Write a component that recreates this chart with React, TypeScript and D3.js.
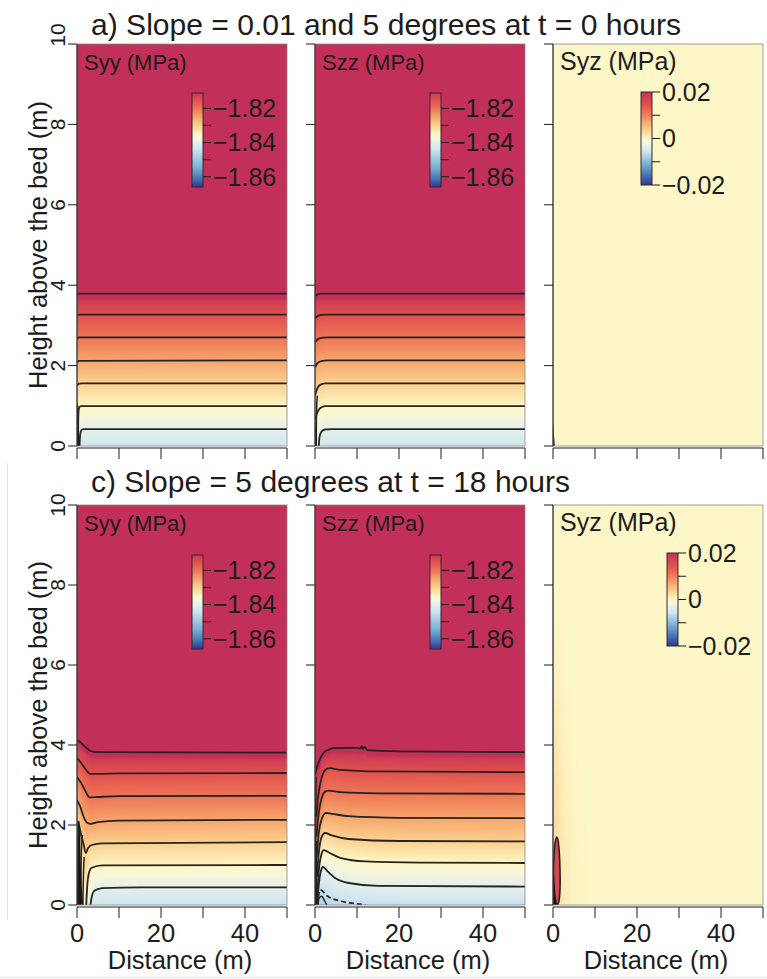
import React, { useMemo } from 'react';
import * as d3 from 'd3';

type Pt = [number, number];

// ---------------- axes / text ----------------
const xTicks = [0, 10, 20, 30, 40, 50];
const xTickLabels = [0, 20, 40];
const yTicks = [0, 2, 4, 6, 8, 10];
const sectionTitles = [
  'a) Slope = 0.01 and 5 degrees at t = 0 hours',
  'c) Slope = 5 degrees at t = 18 hours',
];
const panelLabels = ['Syy (MPa)', 'Szz (MPa)', 'Syz (MPa)'];

// ---------------- colour bars ----------------
const normalRange: [number, number] = [-1.866, -1.811];
const normalTicks = [-1.86, -1.85, -1.84, -1.83, -1.82];
const normalTickLabels = [-1.86, -1.84, -1.82];
const shearRange: [number, number] = [-0.02, 0.02];
const shearTicks = [-0.02, -0.01, 0, 0.01, 0.02];
const shearTickLabels = [-0.02, 0, 0.02];

const paletteColors = ['#313695', '#4470b0', '#78aed3', '#cfe6f0', '#e5f0ea', '#f6f6dc', '#fdf6c6',
  '#fbd08e', '#f6a56c', '#ee7556', '#e0504f', '#cf3e52', '#c22f58'];
const normalStops = [0, 0.08, 0.2, 0.405, 0.473, 0.52, 0.56, 0.655, 0.745, 0.836, 0.927, 0.985, 1];
const shearStops = [0, 0.1, 0.22, 0.36, 0.42, 0.46, 0.5, 0.59, 0.68, 0.77, 0.86, 0.95, 1];

// ---------------- contour data (distance m, height m) ----------------
const levels7 = [-1.84, -1.835, -1.83, -1.825, -1.82, -1.815, -1.81];
const levels8 = [-1.845, -1.84, -1.835, -1.83, -1.825, -1.82, -1.815, -1.81];
const levelSpacing = 0.57; // far-field height between contours (m)
const levelStep = 0.005;

const syyT0: Pt[][] = [
  [[0.6, 0], [0.72, 0.25], [0.95, 0.38], [1.5, 0.42], [50, 0.42]],
  [[0.25, 0], [0.3, 0.7], [0.45, 0.93], [0.9, 0.99], [50, 0.99]],
  [[0, 1.5], [0.5, 1.55], [1.2, 1.56], [50, 1.56]],
  [[0, 2.08], [0.5, 2.12], [50, 2.13]],
  [[0, 2.66], [0.5, 2.7], [50, 2.7]],
  [[0, 3.24], [0.5, 3.27], [50, 3.27]],
  [[0, 3.77], [0.5, 3.79], [50, 3.79]],
];
const syyT0Extra: Pt[][] = [[[0.08, 0], [0.1, 0.6], [0.2, 1.0]]];
const syyT0Blobs: Pt[][] = [[[0, 0], [0.55, 0], [0.3, 0.45], [0.15, 1.05], [0, 1.1]]];

const szzT0: Pt[][] = [
  [[0.9, 0], [1.05, 0.2], [1.5, 0.35], [2.4, 0.41], [4, 0.42], [50, 0.42]],
  [[0, 0.65], [0.5, 0.82], [1.2, 0.94], [2.5, 0.99], [50, 0.99]],
  [[0, 1.25], [0.5, 1.42], [1.2, 1.52], [2.5, 1.56], [50, 1.56]],
  [[0, 1.95], [0.6, 2.06], [1.5, 2.11], [3, 2.13], [50, 2.13]],
  [[0, 2.58], [0.6, 2.65], [1.5, 2.69], [3, 2.7], [50, 2.7]],
  [[0, 3.18], [0.6, 3.23], [1.5, 3.26], [3, 3.27], [50, 3.27]],
  [[0, 3.73], [0.6, 3.77], [1.5, 3.79], [50, 3.79]],
];
const szzT0Extra: Pt[][] = [[[0.3, 0], [0.32, 0.5], [0.4, 1.0], [0.55, 1.25]]];
const szzT0Blobs: Pt[][] = [[[0, 0], [0.4, 0], [0.2, 0.5], [0, 0.7]]];

const syzT0Blobs: Pt[][] = [[[0, 0], [0.45, 0], [0.2, 0.3], [0.08, 0.55], [0, 0.55]]];

const syyT18: Pt[][] = [
  [[3.2, 0], [3.5, 0.2], [4.2, 0.36], [6, 0.42], [15, 0.44], [50, 0.44]],
  [[2.2, 0], [2.45, 0.5], [2.8, 0.78], [3.5, 0.93], [6, 0.99], [50, 1.0]],
  [[0.3, 2.1], [0.9, 1.8], [1.5, 1.55], [2.1, 1.3], [2.6, 1.42], [3.5, 1.5], [6, 1.54], [50, 1.57]],
  [[0, 2.63], [0.8, 2.45], [1.6, 2.2], [2.5, 2.05], [3.3, 2.03], [5, 2.07], [10, 2.11], [50, 2.13]],
  [[0, 3.2], [1, 3.05], [2, 2.85], [3, 2.69], [5, 2.7], [10, 2.72], [50, 2.73]],
  [[0, 3.67], [1, 3.55], [2, 3.4], [3.2, 3.28], [5, 3.28], [10, 3.29], [50, 3.3]],
  [[0, 4.13], [1, 4.05], [2, 3.95], [3.2, 3.85], [5, 3.82], [50, 3.81]],
];
const syyT18Extra: Pt[][] = [
  [[0.2, 0], [0.22, 1.0], [0.3, 2.1]],
  [[0.5, 0], [0.55, 1.0], [0.7, 1.9]],
  [[0.9, 0], [0.95, 0.8], [1.1, 1.5], [1.3, 1.75]],
  [[1.4, 0], [1.5, 0.6], [1.7, 1.2]],
];
const syyT18Blobs: Pt[][] = [[[0.15, 0], [1.5, 0], [1.1, 0.5], [0.8, 1.3], [0.5, 2.1], [0.3, 2.1], [0.2, 1.0]]];

const szzT18: Pt[][] = [
  [[0.6, 0], [0.8, 0.2], [1.2, 0.38], [3, 0.22], [6, 0.1], [10, 0.03], [12, 0]],
  [[0.55, 0], [0.9, 0.5], [1.4, 0.85], [1.9, 0.95], [3, 0.84], [5, 0.66], [8, 0.55], [15, 0.48], [50, 0.46]],
  [[0.5, 0.2], [0.9, 0.85], [1.5, 1.25], [2.1, 1.37], [3.5, 1.3], [6, 1.18], [12, 1.09], [25, 1.06], [50, 1.05]],
  [[0.45, 0.7], [0.9, 1.3], [1.5, 1.68], [2.4, 1.8], [4, 1.74], [8, 1.65], [20, 1.6], [50, 1.59]],
  [[0.4, 1.2], [0.9, 1.8], [1.6, 2.15], [2.6, 2.3], [4, 2.28], [8, 2.22], [20, 2.18], [50, 2.17]],
  [[0.35, 1.7], [0.9, 2.3], [1.6, 2.68], [2.5, 2.84], [3.2, 2.86], [6, 2.82], [15, 2.79], [50, 2.78]],
  [[0.3, 2.2], [0.8, 2.75], [1.5, 3.15], [2.5, 3.38], [3.5, 3.42], [6, 3.38], [15, 3.34], [50, 3.32]],
  [[0, 3.26], [0.8, 3.55], [2, 3.8], [3.2, 3.88], [4.4, 3.92], [10, 3.93], [10.8, 3.91], [11.1, 3.97],
    [11.4, 3.9], [11.8, 3.95], [12.5, 3.87], [20, 3.84], [50, 3.82]],
];
const szzT18Extra: Pt[][] = [
  [[0.1, 0], [0.12, 1.5], [0.2, 2.8], [0.25, 3.2]],
  [[0.25, 0], [0.3, 1.0], [0.38, 1.6]],
  [[0.7, 0], [1.0, 0.18], [1.6, 0.22], [2.3, 0.1], [2.8, 0]],
];
const szzT18Blobs: Pt[][] = [[[0, 0], [0.45, 0], [0.3, 1.2], [0.15, 2.6], [0, 3.0]]];

// Syz at 18 h: weak positive stress near the left edge (grid)
const glowX = [0, 1, 2, 3, 4, 6, 10];
const glowY = [0, 1, 2, 3, 4, 5, 6, 8];
const glowVals = [
  [0.003, 0.0026, 0.0016, 0.0009, 0.0005, 0.0002, 0],
  [0.003, 0.0026, 0.0016, 0.0009, 0.0005, 0.0002, 0],
  [0.0028, 0.0022, 0.0013, 0.0007, 0.0004, 0.0001, 0],
  [0.0024, 0.0018, 0.001, 0.0005, 0.0003, 0.0001, 0],
  [0.0018, 0.0013, 0.0007, 0.0003, 0.0002, 0, 0],
  [0.0012, 0.0008, 0.0004, 0.0002, 0.0001, 0, 0],
  [0.0007, 0.0004, 0.0002, 0.0001, 0, 0, 0],
  [0, 0, 0, 0, 0, 0, 0],
];
const syzT18Loop: Pt[] = [[0.12, 0.15], [0.08, 0.6], [0.2, 1.15], [0.5, 1.55], [0.9, 1.7], [1.3, 1.55],
  [1.6, 1.1], [1.7, 0.6], [1.55, 0.2], [1.2, 0.03], [0.5, 0.03]];
const syzT18LoopValue = 0.016;
const syzT18Blobs: Pt[][] = [[[0, 0], [1.0, 0], [0.6, 0.25], [0.3, 0.7], [0.1, 1.2], [0, 1.2]]];

// ---------------- layout ----------------
const W = 767;
const H = 979;
const PANEL_X = [77, 315, 553];
const PANEL_W = 210;
const SECTIONS = [
  { top: 44, bottom: 446, titleY: 35, titleLen: 590, showX: false, nudge10: -9 },
  { top: 505, bottom: 905, titleY: 492, titleLen: 479, showX: true, nudge10: 0 },
];
const FONT = "'Liberation Sans', Arial, Helvetica, sans-serif";
const INK = '#1c1c1c';
const LINE = '#262320';

type PanelDef = {
  sec: number; col: number; kind: 'normal' | 'shear';
  levels?: number[]; contours?: Pt[][]; dashed?: number;
  extra?: Pt[][]; blobs?: Pt[][]; glow?: boolean; loop?: Pt[];
  labelSize: number;
  cb: { x: number; y: number; h: number };
};

const panelDefs: PanelDef[] = [
  { sec: 0, col: 0, kind: 'normal', levels: levels7, contours: syyT0, extra: syyT0Extra, blobs: syyT0Blobs, labelSize: 22, cb: { x: 192, y: 93, h: 94 } },
  { sec: 0, col: 1, kind: 'normal', levels: levels7, contours: szzT0, extra: szzT0Extra, blobs: szzT0Blobs, labelSize: 22, cb: { x: 430, y: 93, h: 94 } },
  { sec: 0, col: 2, kind: 'shear', blobs: syzT0Blobs, labelSize: 25, cb: { x: 641, y: 92, h: 93 } },
  { sec: 1, col: 0, kind: 'normal', levels: levels7, contours: syyT18, extra: syyT18Extra, blobs: syyT18Blobs, labelSize: 22, cb: { x: 192, y: 555, h: 94 } },
  { sec: 1, col: 1, kind: 'normal', levels: levels8, contours: szzT18, dashed: 0, extra: szzT18Extra, blobs: szzT18Blobs, labelSize: 22, cb: { x: 430, y: 555, h: 94 } },
  { sec: 1, col: 2, kind: 'shear', glow: true, loop: syzT18Loop, blobs: syzT18Blobs, labelSize: 25, cb: { x: 667, y: 553, h: 93 } },
];

// ---------------- helpers ----------------
const normalColor = d3.scaleLinear<string>().domain(normalStops.map(t => normalRange[0] + t * (normalRange[1] - normalRange[0])))
  .range(paletteColors).interpolate(d3.interpolateRgb).clamp(true);
const shearColor = d3.scaleLinear<string>().domain(shearStops.map(t => shearRange[0] + t * (shearRange[1] - shearRange[0])))
  .range(paletteColors).interpolate(d3.interpolateRgb).clamp(true);

function makeLut(scale: d3.ScaleLinear<string, string>, range: [number, number]) {
  return d3.range(1025).map(i => {
    const c = d3.rgb(scale(range[0] + (i / 1024) * (range[1] - range[0])));
    return [c.r, c.g, c.b];
  });
}

function heightAt(pts: Pt[], x: number): number {
  const n = pts.length;
  if (x <= pts[0][0]) return pts[0][1];
  if (x >= pts[n - 1][0]) return pts[n - 1][1];
  for (let i = 1; i < n; i++) {
    if (x <= pts[i][0]) {
      const [x0, y0] = pts[i - 1];
      const [x1, y1] = pts[i];
      return y0 + ((y1 - y0) * (x - x0)) / (x1 - x0);
    }
  }
  return pts[n - 1][1];
}

function normalValue(hs: number[], L: number[], y: number): number {
  const n = hs.length;
  let k = -1;
  for (let i = 0; i < n; i++) if (hs[i] <= y) k = i;
  if (k === -1) return L[0] - ((hs[0] - y) / levelSpacing) * levelStep;
  if (k === n - 1) return L[n - 1] + ((y - hs[n - 1]) / levelSpacing) * levelStep;
  const d = hs[k + 1] - hs[k];
  return d > 1e-9 ? L[k] + ((y - hs[k]) / d) * (L[k + 1] - L[k]) : L[k + 1];
}

function seg(arr: number[], v: number): [number, number] {
  const n = arr.length;
  if (v <= arr[0]) return [0, 0];
  if (v >= arr[n - 1]) return [n - 1, 0];
  let i = 0;
  while (i < n - 2 && v > arr[i + 1]) i++;
  return [i, (v - arr[i]) / (arr[i + 1] - arr[i])];
}

function glowValue(x: number, y: number): number {
  const [i, fx] = seg(glowX, x);
  const [j, fy] = seg(glowY, y);
  const i1 = Math.min(i + 1, glowX.length - 1);
  const j1 = Math.min(j + 1, glowY.length - 1);
  const a = glowVals[j][i] * (1 - fx) + glowVals[j][i1] * fx;
  const b = glowVals[j1][i] * (1 - fx) + glowVals[j1][i1] * fx;
  return a * (1 - fy) + b * fy;
}

function renderField(p: PanelDef, lutN: number[][], lutS: number[][]): string {
  const sec = SECTIONS[p.sec];
  const w = PANEL_W;
  const h = sec.bottom - sec.top;
  const xs = d3.scaleLinear([0, 50], [0, w]);
  const ys = d3.scaleLinear([0, 10], [h, 0]);
  const canvas = document.createElement('canvas');
  canvas.width = w;
  canvas.height = h;
  const ctx = canvas.getContext('2d');
  if (!ctx) return '';
  const img = ctx.createImageData(w, h);
  for (let i = 0; i < w; i++) {
    const xm = xs.invert(i + 0.5);
    const hs = p.contours ? p.contours.map(c => heightAt(c, xm)) : [];
    for (let j = 0; j < h; j++) {
      const ym = ys.invert(j + 0.5);
      let rgb: number[];
      if (p.kind === 'normal') {
        const v = normalValue(hs, p.levels as number[], ym);
        let t = (v - normalRange[0]) / (normalRange[1] - normalRange[0]);
        t = Math.max(0, Math.min(1, t));
        rgb = lutN[Math.round(t * 1024)];
      } else {
        const v = p.glow ? glowValue(xm, ym) : 0;
        let t = (v - shearRange[0]) / (shearRange[1] - shearRange[0]);
        t = Math.max(0, Math.min(1, t));
        rgb = lutS[Math.round(t * 1024)];
      }
      const idx = (j * w + i) * 4;
      img.data[idx] = rgb[0];
      img.data[idx + 1] = rgb[1];
      img.data[idx + 2] = rgb[2];
      img.data[idx + 3] = 255;
    }
  }
  ctx.putImageData(img, 0, 0);
  return canvas.toDataURL();
}

const fmt = (v: number) => (v < 0 ? '\u2212' + Math.abs(v).toString() : v.toString());

function ColorBar({ p, id }: { p: PanelDef; id: string }) {
  const isN = p.kind === 'normal';
  const range = isN ? normalRange : shearRange;
  const stops = isN ? normalStops : shearStops;
  const ticks = isN ? normalTicks : shearTicks;
  const labels = isN ? normalTickLabels : shearTickLabels;
  const { x, y, h } = p.cb;
  const bw = 11;
  const s = d3.scaleLinear(range, [y + h, y]);
  return (
    <g>
      <defs>
        <linearGradient id={id} x1="0" y1="1" x2="0" y2="0">
          {stops.map((t, i) => (
            <stop key={i} offset={t} stopColor={paletteColors[i]} />
          ))}
        </linearGradient>
      </defs>
      <rect x={x} y={y} width={bw} height={h} fill={`url(#${id})`} stroke="#3a2630" strokeWidth={1} />
      {ticks.map(v => (
        <line key={v} x1={x + bw} x2={x + bw + 8} y1={s(v)} y2={s(v)} stroke={INK} strokeWidth={1} />
      ))}
      {labels.map(v => (
        <text key={v} x={x + bw + 10} y={s(v) + 8.8} fontSize={25} fontFamily={FONT} fill={INK}>
          {fmt(v)}
        </text>
      ))}
    </g>
  );
}

function Panel({ p, idx, image }: { p: PanelDef; idx: number; image: string }) {
  const sec = SECTIONS[p.sec];
  const left = PANEL_X[p.col];
  const xs = d3.scaleLinear([0, 50], [left, left + PANEL_W]);
  const ys = d3.scaleLinear([0, 10], [sec.bottom, sec.top]);
  const line = d3.line<Pt>().x(d => xs(d[0])).y(d => ys(d[1])).curve(d3.curveMonotoneX);
  const lineLin = d3.line<Pt>().x(d => xs(d[0])).y(d => ys(d[1]));
  const closed = d3.line<Pt>().x(d => xs(d[0])).y(d => ys(d[1])).curve(d3.curveCardinalClosed.tension(0.3));
  const clipId = `clip${idx}`;
  const h = sec.bottom - sec.top;
  return (
    <g>
      <defs>
        <clipPath id={clipId}>
          <rect x={left} y={sec.top} width={PANEL_W} height={h} />
        </clipPath>
      </defs>
      {image && (
        <image href={image} x={left} y={sec.top} width={PANEL_W} height={h} preserveAspectRatio="none" />
      )}
      <g clipPath={`url(#${clipId})`}>
        {p.loop && (
          <path d={closed(p.loop) || ''} fill={shearColor(syzT18LoopValue)} stroke={LINE} strokeWidth={1.6} />
        )}
        {(p.contours || []).map((c, i) => (
          <path key={i} d={line(c) || ''} fill="none" stroke={LINE} strokeWidth={1.8}
            strokeDasharray={p.dashed === i ? '5 3' : undefined} />
        ))}
        {(p.extra || []).map((c, i) => (
          <path key={'e' + i} d={line(c) || ''} fill="none" stroke={LINE} strokeWidth={1.5} />
        ))}
        {(p.blobs || []).map((c, i) => (
          <path key={'b' + i} d={(lineLin(c) || '') + 'Z'} fill="#141414" fillOpacity={0.9} stroke="none" />
        ))}
      </g>
      <rect x={left} y={sec.top} width={PANEL_W} height={h} fill="none" stroke="#8a8a8a" strokeWidth={0.8} />
      {/* y axis */}
      <line x1={left} x2={left} y1={ys(10)} y2={ys(0)} stroke={INK} strokeWidth={1} />
      {yTicks.map(t => (
        <line key={t} x1={left - 9} x2={left} y1={ys(t)} y2={ys(t)} stroke={INK} strokeWidth={1} />
      ))}
      {/* x axis */}
      <line x1={xs(0)} x2={xs(50)} y1={sec.bottom + 2} y2={sec.bottom + 2} stroke={INK} strokeWidth={1} />
      {xTicks.map(t => (
        <line key={t} x1={xs(t)} x2={xs(t)} y1={sec.bottom + 2} y2={sec.bottom + 13} stroke={INK} strokeWidth={1} />
      ))}
      {sec.showX && xTickLabels.map(t => (
        <text key={t} x={xs(t)} y={942} textAnchor="middle" fontSize={25.5} fontFamily={FONT} fill={INK}>{t}</text>
      ))}
      {sec.showX && (
        <text x={left + 103} y={969} textAnchor="middle" fontSize={25.5} fontFamily={FONT} fill={INK}>Distance (m)</text>
      )}
      <text x={left + 7} y={sec.top + 26} fontSize={p.labelSize} fontFamily={FONT} fill={INK}>{panelLabels[p.col]}</text>
      <ColorBar p={p} id={`cb${idx}`} />
    </g>
  );
}

export default function App() {
  const images = useMemo(() => {
    if (typeof document === 'undefined') return panelDefs.map(() => '');
    const lutN = makeLut(normalColor, normalRange);
    const lutS = makeLut(shearColor, shearRange);
    return panelDefs.map(p => renderField(p, lutN, lutS));
  }, []);

  return (
    <svg width={W} height={H} viewBox={`0 0 ${W} ${H}`}
      style={{ position: 'absolute', left: 0, top: 0, background: '#fff', display: 'block' }}>
      <rect x={0} y={0} width={W} height={H} fill="#fff" />
      <line x1={7.5} x2={7.5} y1={463} y2={920} stroke="#e2e2e2" strokeWidth={1} />
      <line x1={0} x2={W} y1={977.5} y2={977.5} stroke="#e6e6e6" strokeWidth={1} />
      {SECTIONS.map((sec, si) => {
        const ys = d3.scaleLinear([0, 10], [sec.bottom, sec.top]);
        return (
          <g key={si}>
            <text x={91} y={sec.titleY} fontSize={29} fontFamily={FONT} fill={INK}
              textLength={sec.titleLen} lengthAdjust="spacingAndGlyphs">{sectionTitles[si]}</text>
            <text transform={`translate(47, ${(sec.top + sec.bottom) / 2}) rotate(-90)`} textAnchor="middle"
              fontSize={25.5} fontFamily={FONT} fill={INK}>Height above the bed (m)</text>
            {yTicks.map(t => (
              <text key={t} transform={`translate(65, ${ys(t) + (t === 10 ? sec.nudge10 : 0)}) rotate(-90)`}
                textAnchor="middle" fontSize={21} fontFamily={FONT} fill={INK}>{t}</text>
            ))}
          </g>
        );
      })}
      {panelDefs.map((p, i) => (
        <Panel key={i} p={p} idx={i} image={images[i]} />
      ))}
    </svg>
  );
}
